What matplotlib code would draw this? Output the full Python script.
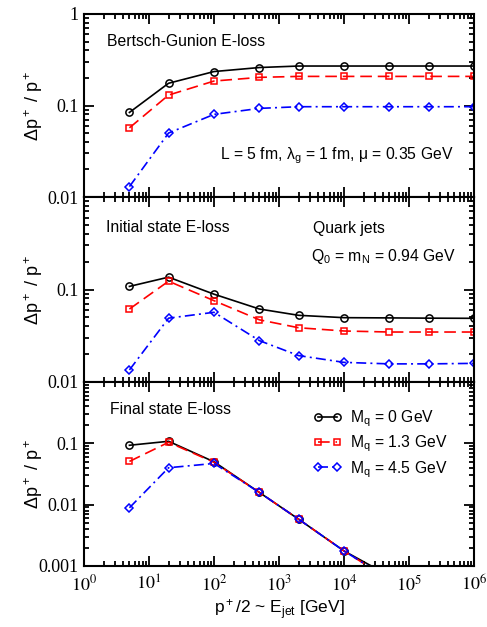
import numpy as np
import matplotlib
matplotlib.use("Agg")
import matplotlib.pyplot as plt
from matplotlib.ticker import LogLocator, NullFormatter

plt.rcParams['mathtext.fontset'] = 'custom'
plt.rcParams['mathtext.rm'] = 'Liberation Sans'
plt.rcParams['mathtext.it'] = 'Liberation Sans:italic'
plt.rcParams['mathtext.bf'] = 'Liberation Sans:bold'
plt.rcParams['font.family'] = ['Liberation Sans', 'DejaVu Sans']

# ---------------- data ----------------
E_jet = [5, 20, 100, 500, 2000, 1e4, 5e4, 2e5, 1e6]

bg_m0 = [0.084, 0.175, 0.235, 0.26, 0.27, 0.27, 0.27, 0.27, 0.27]
bg_m13 = [0.057, 0.13, 0.185, 0.203, 0.208, 0.208, 0.208, 0.208, 0.208]
bg_m45 = [0.013, 0.050, 0.080, 0.093, 0.097, 0.097, 0.097, 0.097, 0.097]

is_m0 = [0.108, 0.136, 0.089, 0.0615, 0.0526, 0.0496, 0.0493, 0.049, 0.0488]
is_m13 = [0.0615, 0.123, 0.0757, 0.047, 0.0386, 0.0356, 0.0347, 0.0347, 0.0347]
is_m45 = [0.0135, 0.049, 0.0567, 0.028, 0.0193, 0.0163, 0.0157, 0.0157, 0.0159]

fs_m0 = [0.093, 0.108, 0.050, 0.0158, 0.0058, 0.00176, 0.00069, 0.00030, 0.00012]
fs_m13 = [0.0507, 0.104, 0.049, 0.0158, 0.0058, 0.00176, 0.00060, 0.00026, 0.00010]
fs_m45 = [0.0089, 0.040, 0.047, 0.0158, 0.0058, 0.00176, 0.00060, 0.00026, 0.00010]

series_labels = ['M$_{\\rm q}$ = 0 GeV', 'M$_{\\rm q}$ = 1.3 GeV', 'M$_{\\rm q}$ = 4.5 GeV']
x_ticklabels = ['$10^{%d}$' % k for k in range(7)]

# ---------------- figure ----------------
W, H = 487, 627
fig = plt.figure(figsize=(W / 100, H / 100), dpi=100)

def px_axes(x0, y0, x1, y1):
    return fig.add_axes([x0 / W, 1 - y1 / H, (x1 - x0) / W, (y1 - y0) / H])

left, right = 84, 474
ax_top = px_axes(left, 14, right, 197)
ax_mid = px_axes(left, 197, right, 382)
ax_bot = px_axes(left, 382, right, 566)

styles = [
    dict(color='black', ls='-', marker='o', ms=5.2, mfc='none', mew=1.1, lw=1.2),
    dict(color='red', ls=(0, (7, 3.5)), marker='s', ms=4.6, mfc='none', mew=1.1, lw=1.2),
    dict(color='blue', ls=(0, (6, 2.5, 1.2, 2.5)), marker='D', ms=3.8, mfc='none', mew=1.1, lw=1.2),
]

panels = [
    (ax_top, [bg_m0, bg_m13, bg_m45], (0.01, 1), ['1', '0.1', '0.01'], [1, 0.1, 0.01]),
    (ax_mid, [is_m0, is_m13, is_m45], (0.01, 1), ['0.1', '0.01'], [0.1, 0.01]),
    (ax_bot, [fs_m0, fs_m13, fs_m45], (0.001, 1), ['0.1', '0.01', '0.001'], [0.1, 0.01, 0.001]),
]

handles = []
for ax, data, ylim, ylabs, yvals in panels:
    hs = []
    for d, st, lab in zip(data, styles, series_labels):
        h, = ax.plot(E_jet, d, label=lab, **st)
        hs.append(h)
    handles = hs
    ax.set_xscale('log')
    ax.set_yscale('log')
    ax.set_xlim(1, 1e6)
    ax.set_ylim(*ylim)
    ax.xaxis.set_major_locator(LogLocator(base=10, numticks=20))
    ax.xaxis.set_minor_locator(LogLocator(base=10, subs=np.arange(2, 10), numticks=20))
    ax.yaxis.set_major_locator(LogLocator(base=10, numticks=20))
    ax.yaxis.set_minor_locator(LogLocator(base=10, subs=np.arange(2, 10), numticks=20))
    ax.xaxis.set_minor_formatter(NullFormatter())
    ax.yaxis.set_minor_formatter(NullFormatter())
    ax.tick_params(which='both', direction='in', top=True, right=True, width=1.3)
    ax.tick_params(which='major', length=7)
    ax.tick_params(which='minor', length=3.6)
    for sp in ax.spines.values():
        sp.set_linewidth(1.5)
    ax.set_yticks(yvals)
    ax.set_yticklabels(ylabs, fontfamily='Liberation Serif', fontsize=13)
    ax.yaxis.set_minor_formatter(NullFormatter())
    ax.tick_params(axis='y', which='major', pad=4)
    ax.set_ylabel('$\\Delta$p$^+$ / p$^+$', fontsize=13, labelpad=6)
    if ax is ax_bot:
        ax.set_xticks([10.0 ** k for k in range(7)])
        ax.set_xticklabels(x_ticklabels, fontsize=13, math_fontfamily='stix')
        ax.tick_params(axis='x', which='major', pad=6)
        ax.set_xlabel('p$^+$/2 ~ E$_{\\rm jet}$ [GeV]', fontsize=12.5, labelpad=2)
    else:
        ax.set_xticklabels([])

for ax in (ax_top, ax_mid, ax_bot):
    ax.yaxis.set_label_coords(-0.10, 0.5)

def ftext(x, y, s, **kw):
    fig.text(x / W, 1 - y / H, s, va='center', ha='left', fontsize=11.3, **kw)

ftext(107, 42, 'Bertsch-Gunion E-loss')
ftext(220, 156, 'L = 5 fm, λ$_{\\rm g}$ = 1 fm, μ = 0.35 GeV')
ftext(106, 228, 'Initial state E-loss')
ftext(313, 229, 'Quark jets')
ftext(311, 256, 'Q$_{\\rm 0}$ = m$_{\\rm N}$ = 0.94 GeV')
ftext(110, 409, 'Final state E-loss')

ax_bot.legend(handles=handles, loc='upper left',
              bbox_to_anchor=((304 - left) / (right - left), (566 - 399) / (566 - 382)),
              frameon=False, fontsize=11.3, numpoints=2, handlelength=1.8, handletextpad=0.5,
              labelspacing=0.3, borderaxespad=0.2)

fig.savefig('out.png', dpi=100)
